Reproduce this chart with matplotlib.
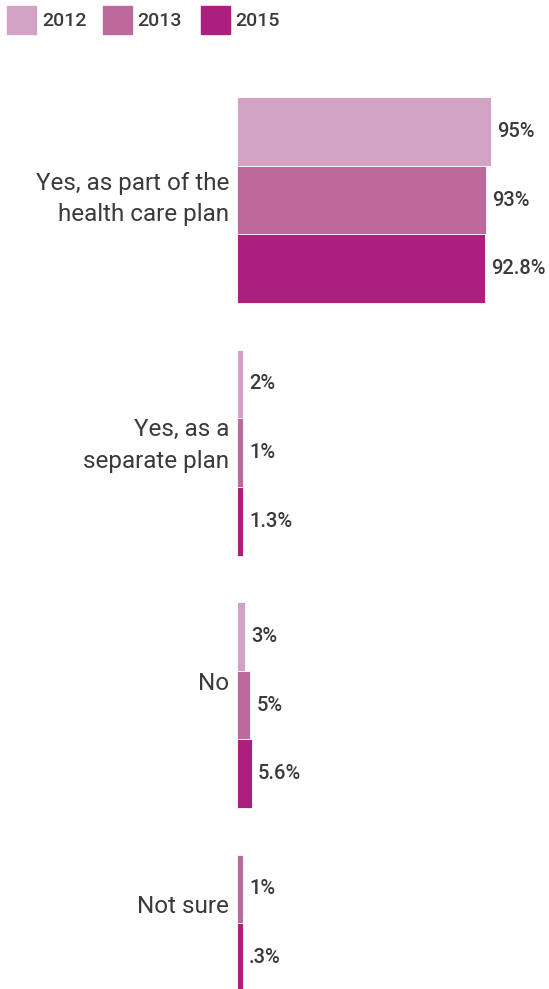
import matplotlib
matplotlib.use("Agg")
import matplotlib.pyplot as plt
from matplotlib.patches import Rectangle
import numpy as np

plt.rcParams['font.family'] = ['Roboto', 'DejaVu Sans']

categories = ["Yes, as part of the\nhealth care plan", "Yes, as a\nseparate plan", "No", "Not sure"]
series = ["2012", "2013", "2015"]
values_2012 = [95, 2, 3, None]
values_2013 = [93, 1, 5, 1]
values_2015 = [92.8, 1.3, 5.6, 0.3]
value_labels_2012 = ["95%", "2%", "3%", None]
value_labels_2013 = ["93%", "1%", "5%", "1%"]
value_labels_2015 = ["92.8%", "1.3%", "5.6%", ".3%"]

colors = ["#d3a3c4", "#bc699b", "#ab1f7e"]
text_color = "#3a3a3a"

W, H = 549, 989
fig = plt.figure(figsize=(W / 100, H / 100), dpi=100)

slot_px = 68.67
gap_slots = 252.5 / slot_px - 3
min_disp = 2.25

all_vals = [values_2012, values_2013, values_2015]
all_labs = [value_labels_2012, value_labels_2013, value_labels_2015]

positions = []
group_centers = []
y = 0.0
for ci in range(len(categories)):
    start = y
    for si in range(len(series)):
        if all_vals[si][ci] is not None:
            positions.append((y + 0.5, si, ci))
            y += 1
    group_centers.append((start + y) / 2)
    y += gap_slots
total = y - gap_slots

ax_left = 237 / W
ax_width = 2.674 * 100 / W
ax_top_px = 97
ax_h_px = total * slot_px
ax = fig.add_axes([ax_left, 1 - (ax_top_px + ax_h_px) / H, ax_width, ax_h_px / H])
ax.set_xlim(0, 100)
ax.set_ylim(total, 0)
ax.axis('off')

for (yc, si, ci) in positions:
    v = all_vals[si][ci]
    w = max(v, min_disp)
    ax.barh(yc, w, height=1.0, color=colors[si], edgecolor='white', linewidth=0.6, clip_on=False)
    ax.annotate(all_labs[si][ci], xy=(w, yc), xytext=(6, 0), textcoords='offset pixels',
                ha='left', va='center', fontsize=14.5, fontweight='medium',
                color=text_color, annotation_clip=False)

label_offsets = [-1, -7, -22, -17]
for ci, cat in enumerate(categories):
    ax.annotate(cat, xy=(0, group_centers[ci]), xytext=(-8, -label_offsets[ci]),
                textcoords='offset pixels', ha='right', va='center', fontsize=17.5,
                color=text_color, linespacing=1.45, annotation_clip=False)

sq_x = [7, 103, 201]
txt_x = [42, 137, 235]
for si, name in enumerate(series):
    fig.add_artist(Rectangle((sq_x[si] / W, 1 - 34 / H), 29 / W, 28 / H,
                             transform=fig.transFigure, color=colors[si]))
    fig.text(txt_x[si] / W, 1 - 21 / H, name, ha='left', va='center', fontsize=14,
             fontweight='medium', color=text_color)

fig.savefig("out.png", dpi=100)
